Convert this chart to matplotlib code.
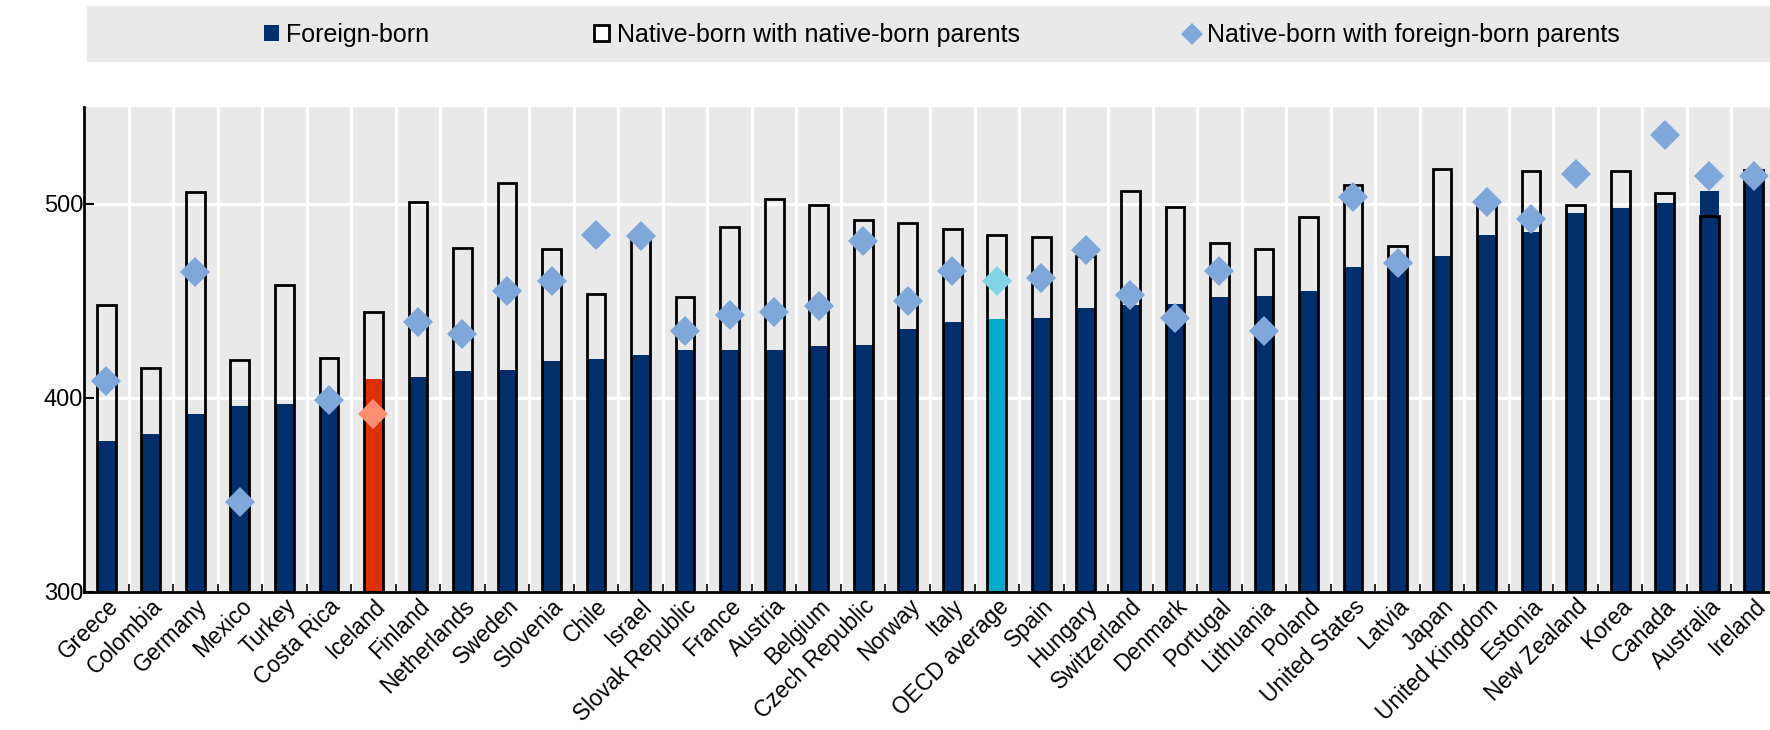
import numpy as np
import matplotlib
matplotlib.use("Agg")
import matplotlib.pyplot as plt
from matplotlib.patches import Patch, Rectangle
from matplotlib.lines import Line2D
from matplotlib import font_manager

# ---------------- data ----------------
countries = ["Greece", "Colombia", "Germany", "Mexico", "Turkey", "Costa Rica", "Iceland",
             "Finland", "Netherlands", "Sweden", "Slovenia", "Chile", "Israel",
             "Slovak Republic", "France", "Austria", "Belgium", "Czech Republic", "Norway",
             "Italy", "OECD average", "Spain", "Hungary", "Switzerland", "Denmark",
             "Portugal", "Lithuania", "Poland", "United States", "Latvia", "Japan",
             "United Kingdom", "Estonia", "New Zealand", "Korea", "Canada", "Australia",
             "Ireland"]

foreign_born = [378, 381.5, 392, 396, 397, 397, 410, 411, 414, 414.5, 419, 420, 422,
                424.5, 424.7, 425, 427, 427.3, 435.5, 439, 440.6, 441, 446.6, 447.8, 448.3,
                452.2, 452.6, 455, 467.6, 471, 473.3, 484.1, 485.8, 495.2, 498, 500.3,
                506.5, 510.7]

native_native = [448, 415.5, 506.3, 419.7, 458, 420.8, 444.2, 500.9, 477.1, 511, 476.7,
                 453.4, 482.5, 452, 488.4, 502.7, 499.3, 492, 490.1, 487.2, 483.8, 483.1,
                 473.4, 506.7, 498.6, 479.7, 476.6, 493.2, 509.9, 478.2, 517.9, 499.5,
                 517.2, 499.5, 516.9, 505.8, 494, 517.4]

native_foreign = [408.6, np.nan, 464.7, 346.4, np.nan, 399, 392, 439, 433, 455.2, 460.4,
                  483.8, 483.3, 434.6, 443, 444.4, 447.4, 480.9, 450, 465.4, 460.1, 461.8,
                  476.1, 452.9, 441, 465.4, 434.3, np.nan, 503.4, 469.8, np.nan, 501.2,
                  492.3, 515.4, np.nan, 535.7, 514.6, 514.3]

yticks = [300, 400, 500]
legend_labels = ["Foreign-born", "Native-born with native-born parents",
                 "Native-born with foreign-born parents"]

# ---------------- style ----------------
avail = {f.name for f in font_manager.fontManager.ttflist}
fam = "Liberation Sans Narrow" if "Liberation Sans Narrow" in avail else "Liberation Sans"
plt.rcParams["font.family"] = [fam, "DejaVu Sans"]

NAVY = "#002F6C"
DIAM = "#7FA7D9"
RED = "#DB3100"
RED_D = "#FF8D70"
CYAN = "#00ABCB"
CYAN_D = "#80D4E5"
BG = "#E9E9E9"

bar_colors = []
dia_colors = []
for c in countries:
    if c == "Iceland":
        bar_colors.append(RED); dia_colors.append(RED_D)
    elif c == "OECD average":
        bar_colors.append(CYAN); dia_colors.append(CYAN_D)
    else:
        bar_colors.append(NAVY); dia_colors.append(DIAM)

fig = plt.figure(figsize=(17.7, 7.3), dpi=100)
ax = fig.add_axes([84 / 1770, 1 - 592 / 730, (1776 - 84) / 1770, (592 - 107) / 730])
ax.set_facecolor(BG)

x = np.arange(len(countries))
W = 0.42
base = 300
ax.bar(x, np.array(foreign_born) - base, bottom=base, width=W, color=bar_colors,
       edgecolor="none", zorder=3)
ax.bar(x, np.array(native_native) - base, bottom=base, width=W, facecolor="none",
       edgecolor="black", linewidth=2.0, zorder=4)
nf = np.array(native_foreign)
for xi, v, col in zip(x, nf, dia_colors):
    if not np.isnan(v):
        ax.plot(xi, v, marker="D", markersize=15, color=col, markeredgewidth=0,
                linestyle="none", zorder=5)

ax.set_xlim(-0.5, len(countries) - 0.5)
ax.set_ylim(300, 550)
ax.set_yticks(yticks)
ax.set_xticks(x)
ax.set_xticklabels(countries, rotation=45, ha="right", va="top", rotation_mode="anchor",
                   fontsize=16.3)
ax.set_xticks(x[:-1] + 0.5, minor=True)
ax.tick_params(axis="x", which="major", length=0, pad=2)
ax.tick_params(axis="x", which="minor", direction="in", length=6, width=1.2, color="black")
ax.tick_params(axis="y", direction="in", length=7, width=1.5, labelsize=17, pad=0.5)
ax.grid(axis="y", color="white", linewidth=2.2, zorder=1)
ax.grid(axis="x", which="minor", color="white", linewidth=2.2, zorder=1)
ax.set_axisbelow(True)
for s in ["top", "right"]:
    ax.spines[s].set_visible(False)
ax.spines["left"].set_linewidth(2)
ax.spines["bottom"].set_linewidth(2)
ax.spines["left"].set_zorder(6)
ax.spines["bottom"].set_zorder(6)

# legend box
fig.patches.append(Rectangle((87 / 1770, 1 - 62 / 730), (1770 - 87) / 1770, 56 / 730,
                             transform=fig.transFigure, facecolor=BG, edgecolor="none",
                             zorder=0))
handles = [Patch(facecolor=NAVY, edgecolor="none"),
           Patch(facecolor="white", edgecolor="black", linewidth=2),
           Line2D([], [], marker="D", color=DIAM, markersize=11, linestyle="none",
                  markeredgewidth=0)]
fig.legend(handles, legend_labels, ncol=3, loc="center",
           bbox_to_anchor=(942 / 1770, 1 - 35 / 730), frameon=False, fontsize=18,
           handlelength=0.6, handleheight=0.6, handletextpad=0.3, columnspacing=6.6)

fig.savefig("out.png", dpi=100)
